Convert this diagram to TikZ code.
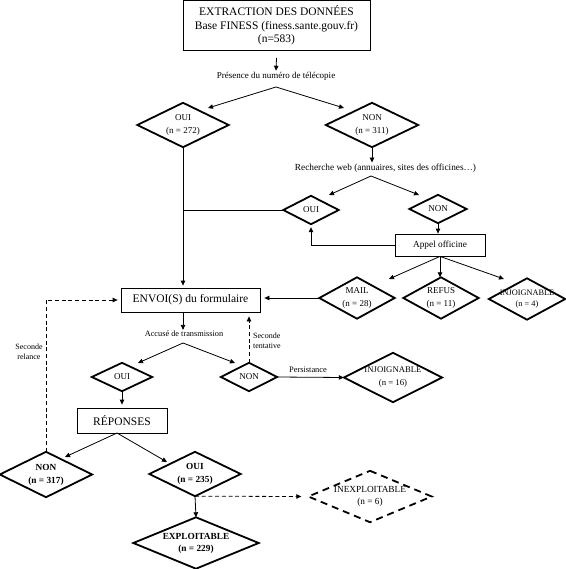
\documentclass[tikz,border=0pt]{standalone}
\usepackage{fontspec}
\setmainfont{Liberation Serif}
\usetikzlibrary{arrows.meta,calc}
\newcommand\fsz[2]{\fontsize{#1}{#2}\selectfont}
\tikzset{
  dia/.style 2 args={rectangle, inner sep=0pt, minimum width=#1, minimum height=#2, align=center, font=\fsz{9}{13}},
  diabold/.style={font=\fsz{9.3}{13}\bfseries},
  box/.style={draw, line width=0.8pt, inner sep=0pt, align=center, font=\fsz{11.5}{13.5}},
  lbl/.style={inner sep=1pt, align=center},
  arr/.style={line width=0.8pt, -{Triangle[length=5pt,width=4.5pt]}},
  plain/.style={line width=0.8pt},
  dsh/.style={dash pattern=on 4pt off 2.7pt},
  diaborder/.style={line width=1.8pt, line join=miter},
}
\begin{document}
\begin{tikzpicture}[x=1pt,y=-1pt]
\useasboundingbox[fill=white] (0,0) rectangle (565,569);

% boxes and labels
\node[box, minimum width=187pt, minimum height=50pt] (top) at (276.5,25.5)
  {EXTRACTION DES DONNÉES\\Base FINESS (finess.sante.gouv.fr)\\(n=583)};
\node[lbl, font=\fsz{9}{11}] (pres) at (276,76) {Présence du numéro de télécopie};
\node[dia={91pt}{44pt}] (oui1) at (183,125) {OUI\\(n = 272)};
\node[dia={92pt}{44pt}] (non1) at (372,125) {NON\\(n = 311)};
\node[lbl, font=\fsz{9.3}{11}] (rech) at (385.5,168) {Recherche web (annuaires, sites des officines…)};
\node[dia={55pt}{28pt}] (ouiw) at (311,210) {OUI};
\node[dia={57pt}{28pt}] (nonw) at (438,209) {NON};
\node[box, minimum width=90pt, minimum height=22pt, font=\fsz{9.3}{11}] (appel) at (440,245) {Appel officine};
\node[dia={75pt}{41pt}] (mail) at (357,298) {MAIL\\(n = 28)};
\node[dia={75pt}{41pt}] (refus) at (441,298) {REFUS\\(n = 11)};
\node[dia={76pt}{41pt}, font=\fsz{8.3}{11.5}] (injo4) at (527,299) {INJOIGNABLE\\(n = 4)};
\node[box, minimum width=139pt, minimum height=24pt] (envoi) at (190.5,300) {ENVOI(S) du formulaire};
\node[lbl, font=\fsz{8.3}{10}] (accuse) at (184,334) {Accusé de transmission};
\node[dia={60pt}{28pt}] (ouis) at (122,377) {OUI};
\node[dia={56pt}{28pt}] (nons) at (249,377) {NON};
\node[lbl, anchor=west, align=left, font=\fsz{8}{10}] (tent) at (252,341) {Seconde\\tentative};
\node[lbl, font=\fsz{8}{10}] (relance) at (29,352) {Seconde\\relance};
\node[lbl, font=\fsz{8.4}{10}] (persist) at (308,370) {Persistance};
\node[dia={98pt}{49pt}, font=\fsz{8.7}{13}] (injo16) at (393,377.5) {INJOIGNABLE\\(n = 16)};
\node[box, minimum width=90pt, minimum height=25pt] (rep) at (122,420.5) {RÉPONSES};
\node[dia={92pt}{45pt}, diabold] (non317) at (46,474.5) {NON\\(n = 317)};
\node[dia={91pt}{44pt}, diabold] (oui235) at (195,474) {OUI\\(n = 235)};
\node[dia={125pt}{51pt}, diabold, font=\fsz{9.3}{12}\bfseries] (explo) at (196,543) {EXPLOITABLE\\(n = 229)};
\node[dia={123pt}{51pt}, font=\fsz{9.3}{12}] (inexp) at (370,496.5) {INEXPLOITABLE\\(n = 6)};

% diamond outlines
\foreach \n in {oui1,non1,ouiw,nonw,mail,refus,injo4,ouis,nons,injo16,non317,oui235,explo}
  \draw[diaborder] (\n.north) -- (\n.east) -- (\n.south) -- (\n.west) -- cycle;
\draw[diaborder, dash pattern=on 7pt off 5pt] (inexp.north) -- (inexp.east) -- (inexp.south) -- (inexp.west) -- cycle;

% split points and free ends
\coordinate (sp1) at (276,87);
\coordinate (t1l) at (208,108);
\coordinate (t1r) at (344,108);
\coordinate (sp2) at (371,176);
\coordinate (t2l) at (329,195);
\coordinate (t2r) at (419,195);
\coordinate (t3l) at (389,279);
\coordinate (t3r) at (504,279);
\coordinate (sp3) at (183,343);
\coordinate (t4l) at (138,363);
\coordinate (t4r) at (235,363);
\coordinate (sp4) at (117,433);
\coordinate (t5l) at (65,457);
\coordinate (t5r) at (167,462);

% connectors
\draw[arr] ([yshift=-7pt]top.south) -- (pres.north);
\draw[arr] (sp1) -- (t1l);
\draw[arr] (sp1) -- (t1r);
\draw[arr] (non1.south) -- (non1.south |- rech.north);
\draw[arr] (sp2) -- (t2l);
\draw[arr] (sp2) -- (t2r);
\draw[plain] (ouiw.west) -- (ouiw.west -| oui1.south);
\draw[arr] (nonw.south) -- (nonw.south |- appel.north);
\draw[arr, shorten >=3pt] (appel.west) -| (ouiw.south);
\draw[arr] (appel.south) -- (t3l);
\draw[arr] (appel.south) -- (appel.south |- refus.north);
\draw[arr] (appel.south) -- (t3r);
\draw[arr, shorten >=2pt] (oui1.south) -- (oui1.south |- envoi.north);
\draw[arr, shorten >=4pt] (mail.west) -- (mail.west -| envoi.east);
\draw[arr] (oui1.south |- envoi.south) -- (oui1.south |- accuse.north);
\draw[arr] (sp3) -- (t4l);
\draw[arr] (sp3) -- (t4r);
\draw[arr, dsh, shorten >=4pt] (nons.north) -- (nons.north |- envoi.south);
\draw[arr] (nons.east) -- (injo16.west);
\draw[arr, shorten >=3pt] (ouis.south) -- (rep.north);
\draw[arr] (sp4) -- (t5l);
\draw[arr] (sp4) -- (t5r);
\draw[arr, dsh, shorten >=3pt] (non317.north) |- (envoi.west);
\draw[arr] (oui235.south) -- (explo.north);
\draw[arr, dsh, shorten >=7pt] (oui235.south) -- (inexp.west);
\end{tikzpicture}
\end{document}
